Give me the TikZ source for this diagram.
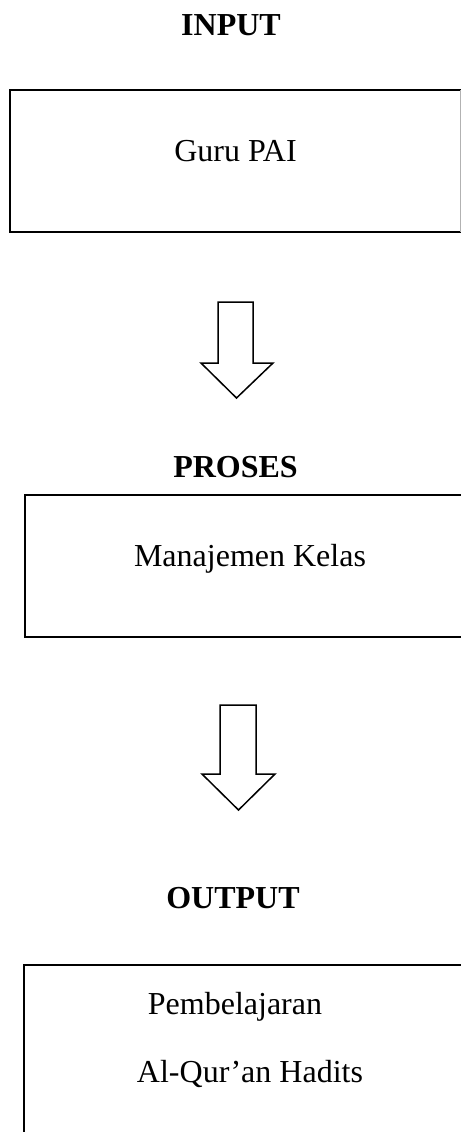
\documentclass[tikz,border=0pt]{standalone}
\usepackage{fontspec}
\setmainfont{Liberation Serif}
\begin{document}
\begin{tikzpicture}[x=0.5pt,y=-0.5pt,
  lbl/.style={font=\fontsize{16}{19}\selectfont, inner sep=0pt, anchor=base},
  head/.style={lbl, font=\fontsize{16}{19}\selectfont\bfseries},
  boxline/.style={line width=1pt, black, line cap=rect},
  blockarrow/.style={line width=0.75pt, fill=white, line join=miter}]
\useasboundingbox (0,0) rectangle (461,1132);
% INPUT
\node[head] (hin) at (231,35) {INPUT};
\draw[boxline] (461,90) -- (10,90) -- (10,232) -- (461,232);
\draw[black!30, line width=0.5pt] (460,90) -- (460,232);
\node[lbl] (guru) at (235.5,161) {Guru PAI};
% arrow 1
\draw[blockarrow] (218,302) -- (253,302) -- (253,363) -- (273,363) -- (236.5,398)
  -- (201,363) -- (218,363) -- cycle;
% PROSES
\node[head] (hpr) at (235.5,477) {PROSES};
\draw[boxline] (461,495) -- (25,495) -- (25,637) -- (461,637);
\node[lbl] (mk) at (250,566) {Manajemen Kelas};
% arrow 2
\draw[blockarrow] (220,705) -- (256,705) -- (256,774) -- (275,774) -- (238.5,810)
  -- (202,774) -- (220,774) -- cycle;
% OUTPUT
\node[head] (hout) at (233,908) {OUTPUT};
\draw[boxline] (461,965) -- (24,965) -- (24,1132);
\node[lbl] (pb) at (235,1014) {Pembelajaran};
\node[lbl] (aq) at (250,1082) {Al-Qur’an Hadits};
\end{tikzpicture}
\end{document}
